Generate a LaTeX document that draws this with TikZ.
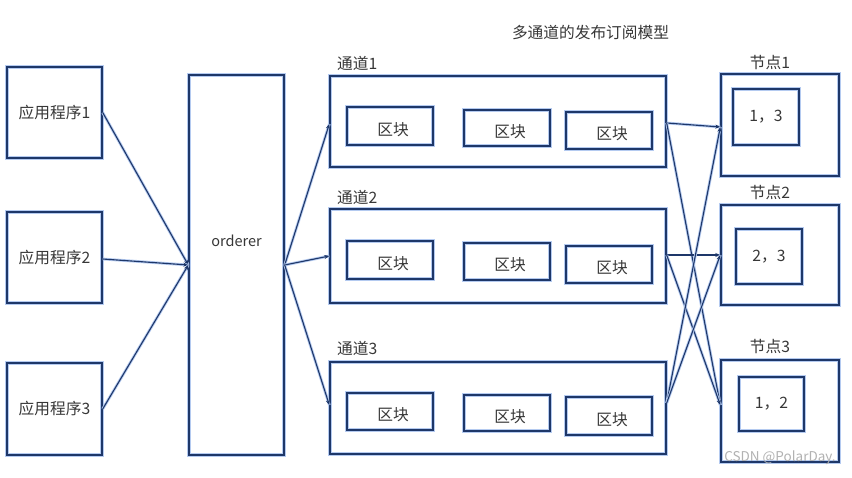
\documentclass[tikz,border=0pt]{standalone}
\usepackage{fontspec}
\setmainfont{Noto Sans CJK SC}
\usetikzlibrary{arrows.meta,calc}
\definecolor{edge}{RGB}{30,55,105}
\definecolor{glow}{RGB}{180,202,240}
\definecolor{txt}{RGB}{55,55,55}
\begin{document}
\begin{tikzpicture}[x=1pt,y=-1pt,
  box/.style={draw=edge, line width=1.4pt, preaction={draw=glow, line width=3.6pt},
    inner sep=0pt, text=txt, font=\fontsize{15.7}{18}\selectfont},
  lbl/.style={inner sep=0pt, text=txt, font=\fontsize{15.7}{18}\selectfont},
  blk/.style={box, minimum width=86pt, label={[lbl, xshift=3pt, yshift=-3.5pt]center:区块}},
  arr/.style={draw=edge, line width=1.1pt, -{Stealth[length=5pt,width=4pt]},
    preaction={draw=glow, line width=2.8pt, -}}]
\useasboundingbox[fill=white] (0,0) rectangle (852,477);

% title
\node[lbl] (title) at (590.5,33) {多通道的发布订阅模型};

% applications
\node[box, minimum width=95pt, minimum height=91pt] (app1) at (54.5,112.5) {应用程序1};
\node[box, minimum width=95pt, minimum height=91pt] (app2) at (54.5,257.5) {应用程序2};
\node[box, minimum width=95pt, minimum height=92pt] (app3) at (54.5,409) {应用程序3};

% orderer
\node[box, minimum width=95pt, minimum height=380pt] (ord) at (236.5,265) {};
\node[lbl, font=\fontsize{14.5}{17}\selectfont] (ordtxt) at (236.5,241) {orderer};

% channels
\node[box, minimum width=336pt, minimum height=91pt] (ch1) at (498,121.5) {};
\node[box, minimum width=336pt, minimum height=94pt] (ch2) at (498,256) {};
\node[box, minimum width=336pt, minimum height=92pt] (ch3) at (498,408) {};
\node[lbl, anchor=west] (ch1l) at (337,63) {通道1};
\node[lbl, anchor=west] (ch2l) at (337,197) {通道2};
\node[lbl, anchor=west] (ch3l) at (337,348) {通道3};

% blocks
\node[blk, minimum height=38pt] (b11) at (390,126) {};
\node[blk, minimum height=36pt] (b12) at (507,128) {};
\node[blk, minimum height=37pt] (b13) at (609,130.5) {};
\node[blk, minimum height=38pt] (b21) at (390,260) {};
\node[blk, minimum height=37pt] (b22) at (507,261.5) {};
\node[blk, minimum height=37pt] (b23) at (609,264.5) {};
\node[blk, minimum height=37pt] (b31) at (390,411.5) {};
\node[blk, minimum height=36pt] (b32) at (507,413) {};
\node[blk, minimum height=38pt] (b33) at (609,416) {};

% peers
\node[box, minimum width=118pt, minimum height=102pt] (n1) at (780,125) {};
\node[box, minimum width=118pt, minimum height=100pt] (n2) at (780,255) {};
\node[box, minimum width=118pt, minimum height=102pt] (n3) at (780,411) {};
\node[box, minimum width=66pt, minimum height=56pt] (i1) at (766,117) {1，3};
\node[box, minimum width=66pt, minimum height=55pt] (i2) at (769,256.5) {2，3};
\node[box, minimum width=65pt, minimum height=54pt] (i3) at (771.5,404) {1，2};
\node[lbl] (n1l) at (770,63) {节点1};
\node[lbl] (n2l) at (770,193) {节点2};
\node[lbl] (n3l) at (770,347) {节点3};

% watermark
\node[inner sep=0pt, text=gray!60, font=\fontsize{13.5}{15}\selectfont] (wm) at (780,458) {CSDN @PolarDay.};

% arrows apps -> orderer
\draw[arr] (app1.east) -- (ord.west);
\draw[arr] ([yshift=-1.5pt]app2.east) -- (ord.west);
\draw[arr] (app3.east) -- (ord.west);

% orderer -> channels
\draw[arr] (ord.east) -- ([yshift=-2.5pt]ch1.west);
\draw[arr] (ord.east) -- (ch2.west);
\draw[arr] (ord.east) -- ([yshift=3pt]ch3.west);

% channels -> peers
\draw[arr] ([yshift=-1.5pt]ch1.east) -- ([yshift=-2pt]n1.west);
\draw[arr] ([yshift=-1.5pt]ch1.east) -- ([yshift=6pt]n3.west);
\draw[arr] ([yshift=1pt]ch2.east) -- (n2.west);
\draw[arr] ([yshift=1pt]ch2.east) -- ([yshift=6pt]n3.west);
\draw[arr] ([yshift=5pt]ch3.east) -- ([yshift=-2pt]n1.west);
\draw[arr] ([yshift=5pt]ch3.east) -- (n2.west);
\end{tikzpicture}
\end{document}
